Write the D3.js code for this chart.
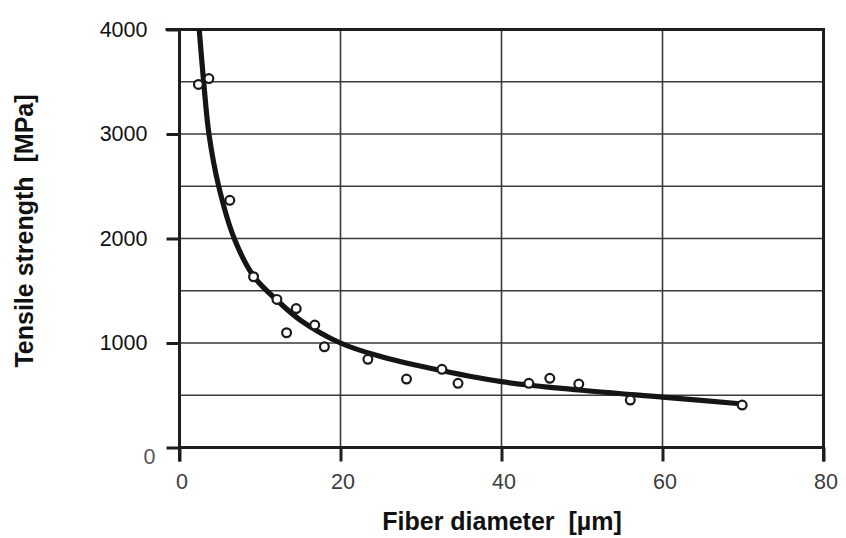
<!DOCTYPE html>
<html>
<head>
<meta charset="utf-8">
<script src="https://cdn.jsdelivr.net/npm/d3@7"></script>
<style>
  html, body { margin: 0; padding: 0; background: #fff; }
  svg { display: block; }
  text { font-family: "Liberation Sans", Arial, sans-serif; }
</style>
</head>
<body>
<svg id="chart" width="846" height="538"></svg>
<script>
// ---- data ----
const xTicks = [0, 20, 40, 60, 80];
const yTicks = [0, 1000, 2000, 3000, 4000];
const xGrid = [20, 40, 60];
const yGrid = [500, 1000, 1500, 2000, 2500, 3000, 3500];

// measured points: fiber diameter [µm], tensile strength [MPa]
const pointDiameter = [2.35, 3.65, 6.25, 9.2, 12.1, 14.5, 13.3, 16.8, 18.0, 23.4, 28.2, 32.6, 34.6, 43.4, 46.0, 49.6, 56.0, 69.9];
const pointStrength = [3474, 3530, 2365, 1634, 1417, 1330, 1098, 1172, 964, 844, 655, 748, 614, 614, 662, 607, 454, 406];

// fitted curve
const curveDiameter = [2.45, 3.0, 3.66, 4.87, 6.8, 9.2, 12.1, 15.0, 20, 25, 31, 40, 50, 60, 70];
const curveStrength = [4000, 3500, 3000, 2500, 2000, 1640, 1410, 1220, 1000, 870, 760, 630, 548, 482, 416];

const xTitle = "Fiber diameter  [µm]";
const yTitle = "Tensile strength  [MPa]";

// ---- drawing ----
const svg = d3.select("#chart");
const x = d3.scaleLinear().domain([0, 80]).range([179.5, 823.5]);
const y = d3.scaleLinear().domain([0, 4000]).range([447.5, 29.5]);

const ink = "#1e1e1e";

// grid
svg.append("g").selectAll("line").data(yGrid).join("line")
  .attr("x1", x(0)).attr("x2", x(80))
  .attr("y1", d => y(d)).attr("y2", d => y(d))
  .attr("stroke", "#3a3a3a").attr("stroke-width", 1.6);
svg.append("g").selectAll("line").data(xGrid).join("line")
  .attr("x1", d => x(d)).attr("x2", d => x(d))
  .attr("y1", y(0)).attr("y2", y(4000))
  .attr("stroke", "#3a3a3a").attr("stroke-width", 1.6);

// axes
const yAxis = svg.append("g").attr("transform", `translate(${x(0)},0)`)
  .call(d3.axisLeft(y).tickValues(yTicks).tickSize(13).tickPadding(19).tickFormat(d3.format("d")));
const xAxis = svg.append("g").attr("transform", `translate(0,${y(0)})`)
  .call(d3.axisBottom(x).tickValues(xTicks).tickSize(14).tickPadding(12).tickFormat(d3.format("d")));

[yAxis, xAxis].forEach(g => {
  g.select(".domain").remove();
  g.selectAll(".tick line").attr("stroke", ink).attr("stroke-width", 3);
  g.selectAll(".tick text").attr("font-size", 21.5).attr("fill", "#111");
});
xAxis.selectAll(".tick text").attr("fill", "#3c3c3c").attr("dx", 2);
yAxis.selectAll(".tick text")
  .filter(d => d === 0)
  .attr("fill", "#555")
  .attr("transform", "translate(8,9)");

// frame
const frame = svg.append("g").attr("stroke", ink).attr("stroke-width", 3).attr("fill", "none");
frame.append("line").attr("x1", x(0) - 14).attr("x2", x(80) + 1.5).attr("y1", y(4000)).attr("y2", y(4000));
frame.append("line").attr("x1", x(0)).attr("x2", x(80)).attr("y1", y(0)).attr("y2", y(0));
frame.append("line").attr("x1", x(0)).attr("x2", x(0)).attr("y1", y(4000)).attr("y2", y(0) + 14);
frame.append("line").attr("x1", x(80)).attr("x2", x(80)).attr("y1", y(4000)).attr("y2", y(0) + 14);

// fitted curve
const curveData = curveDiameter.map((d, i) => [d, curveStrength[i]]);
svg.append("path")
  .datum(curveData)
  .attr("d", d3.line().x(d => x(d[0])).y(d => y(d[1])).curve(d3.curveCatmullRom.alpha(0.5)))
  .attr("fill", "none").attr("stroke", "#151515").attr("stroke-width", 5.2)
  .attr("stroke-linecap", "butt");

// points
const pts = pointDiameter.map((d, i) => [d, pointStrength[i]]);
svg.append("g").selectAll("circle").data(pts).join("circle")
  .attr("cx", d => x(d[0])).attr("cy", d => y(d[1]))
  .attr("r", 4.4)
  .attr("fill", "#fff").attr("stroke", "#1a1a1a").attr("stroke-width", 2.2);

// titles
svg.append("text")
  .attr("x", 502).attr("y", 530)
  .attr("text-anchor", "middle")
  .attr("font-size", 25).attr("font-weight", "bold").attr("fill", "#111")
  .style("white-space", "pre")
  .text(xTitle);

svg.append("text")
  .attr("transform", "translate(33,231) rotate(-90)")
  .attr("text-anchor", "middle")
  .attr("font-size", 25).attr("font-weight", "bold").attr("fill", "#111")
  .style("white-space", "pre")
  .text(yTitle);
</script>
</body>
</html>
